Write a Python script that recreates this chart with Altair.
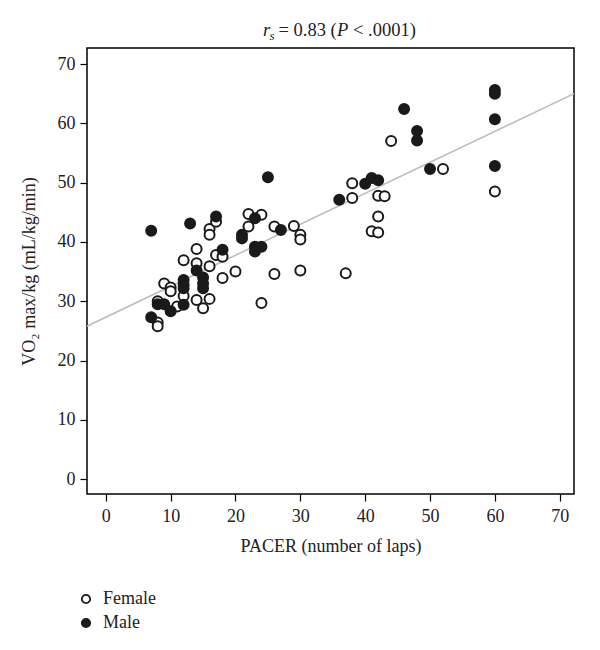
import altair as alt
import pandas as pd

# ---- data ----
male_laps = [7, 7, 8, 9, 10, 12, 12, 12, 12, 13, 14, 15, 15, 15, 17, 18, 21, 21,
             23, 23, 23, 24, 25, 27, 36, 40, 41, 42, 46, 48, 48, 50, 60, 60, 60, 60]
male_vo2 = [41.9, 27.3, 29.5, 29.5, 28.3, 29.4, 33.6, 32.8, 32.2, 43.1, 35.2, 34.0, 33.0, 32.2,
            44.3, 38.7, 41.2, 40.6, 44.0, 39.2, 38.4, 39.2, 50.9, 42.0, 47.1, 49.8, 50.8, 50.4,
            62.4, 58.7, 57.1, 52.3, 65.6, 65.0, 60.7, 52.8]

female_laps = [8, 8, 8, 9, 10, 10, 11, 12, 12, 14, 14, 14, 15, 16, 16, 16, 16, 17, 17, 18, 18,
               20, 22, 22, 24, 24, 26, 26, 29, 30, 30, 30, 37, 38, 38, 41, 42, 42, 42, 43, 44,
               52, 60]
female_vo2 = [26.4, 25.8, 30.0, 33.0, 32.3, 31.7, 29.1, 36.9, 30.9, 38.8, 36.4, 30.2, 28.8,
              42.2, 41.2, 35.9, 30.4, 43.4, 37.8, 37.5, 33.9, 35.0, 44.7, 42.6, 44.6, 29.7,
              42.6, 34.6, 42.7, 41.2, 40.4, 35.2, 34.7, 49.9, 47.4, 41.8, 47.8, 44.3, 41.6,
              47.7, 57.0, 52.3, 48.5]

fit_laps = [-2.9, 72.2]
fit_vo2 = [25.8, 65.0]

x_ticks = [0, 10, 20, 30, 40, 50, 60, 70]
y_ticks = [0, 10, 20, 30, 40, 50, 60, 70]

# title pieces: (text, italic, subscript)
title_parts = [("r", True, False), ("s", True, True), ("= 0.83 (", False, False),
               ("P", True, False), ("< .0001)", False, False)]

FONT = "Liberation Serif"
INK = "#222"

pts = pd.DataFrame({
    "laps": female_laps + male_laps,
    "vo2": female_vo2 + male_vo2,
    "sex": ["Female"] * len(female_laps) + ["Male"] * len(male_laps),
})
fit = pd.DataFrame({"laps": fit_laps, "vo2": fit_vo2})

xscale = alt.Scale(domain=[-2.9, 72.2], nice=False, zero=False)
yscale = alt.Scale(domain=[-2.5, 72.7], nice=False, zero=False)

xaxis = alt.Axis(values=x_ticks, title="PACER (number of laps)", grid=False, domain=False,
                 tickColor="black", tickSize=7, tickWidth=1.2, labelPadding=6,
                 labelFontSize=18, titleFontSize=18, titleFontWeight="normal",
                 labelColor=INK, titleColor=INK, titlePadding=12,
                 labelFont=FONT, titleFont=FONT)
yaxis = alt.Axis(values=y_ticks, title="VO₂ max/kg (mL/kg/min)", grid=False, domain=False,
                 tickColor="black", tickSize=7, tickWidth=1.2, labelPadding=5,
                 labelFontSize=18, titleFontSize=18, titleFontWeight="normal",
                 labelColor=INK, titleColor=INK, titlePadding=19,
                 labelFont=FONT, titleFont=FONT)

line = alt.Chart(fit).mark_line(color="#bdbdbd", strokeWidth=1.6, clip=True).encode(
    x=alt.X("laps:Q", scale=xscale, axis=xaxis),
    y=alt.Y("vo2:Q", scale=yscale, axis=yaxis),
)

points = alt.Chart(pts).mark_circle(size=100, stroke="#1a1a1a", strokeWidth=2, opacity=1).encode(
    x=alt.X("laps:Q", scale=xscale),
    y=alt.Y("vo2:Q", scale=yscale),
    fill=alt.Fill("sex:N",
                  scale=alt.Scale(domain=["Female", "Male"], range=["white", "#1a1a1a"]),
                  legend=alt.Legend(title=None, orient="none", legendX=-10, legendY=542,
                                    direction="vertical", symbolType="circle", symbolSize=70,
                                    symbolStrokeColor="#1a1a1a", symbolStrokeWidth=1.8,
                                    labelFontSize=18, labelFont=FONT, labelColor=INK,
                                    rowPadding=6, padding=0, labelOffset=8)),
    order=alt.Order("sex:N"),
)

# title assembled from text pieces so that r, s and P can be italic
one = pd.DataFrame({"k": [0]})
title_x = [176, 182.5, 191.5, 250, 266]
title_layers = []
for (txt, ital, sub), tx in zip(title_parts, title_x):
    title_layers.append(
        alt.Chart(one).mark_text(
            text=txt, font=FONT, fontSize=13 if sub else 18.5,
            fontStyle="italic" if ital else "normal", color=INK,
            align="left", baseline="alphabetic",
        ).encode(x=alt.value(tx), y=alt.value(-8 if sub else -12))
    )

chart = alt.layer(line, points, *title_layers).properties(
    width=487, height=446,
    autosize=alt.AutoSizeParams(type="none"),
    padding={"left": 79, "top": 40, "right": 10, "bottom": 150},
).configure_view(stroke="black", strokeWidth=1.5)

chart.save("out.html", embed_options={"renderer": "svg", "actions": False})
